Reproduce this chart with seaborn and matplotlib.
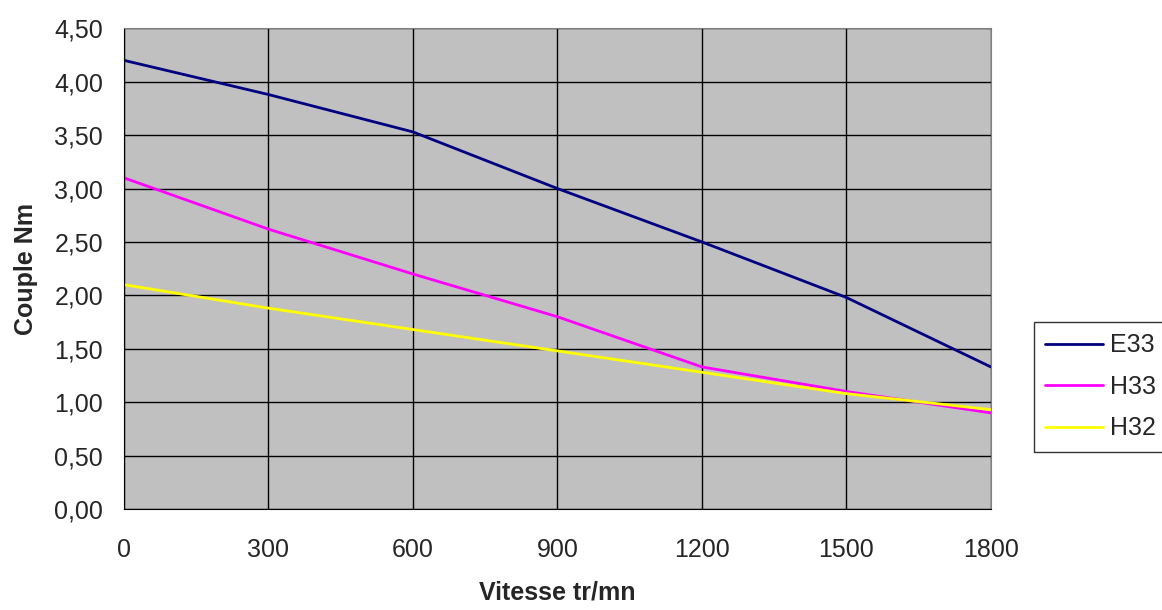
import pandas as pd
import matplotlib
matplotlib.use("Agg")
import matplotlib.pyplot as plt
import seaborn as sns
from matplotlib.ticker import FuncFormatter, MultipleLocator

# speed (tr/mn) and torque (Nm)
vitesse = [0, 300, 600, 900, 1200, 1500, 1800]
e33 = [4.20, 3.88, 3.53, 3.00, 2.50, 1.98, 1.33]
h33 = [3.10, 2.62, 2.20, 1.80, 1.33, 1.10, 0.90]
h32 = [2.10, 1.88, 1.68, 1.48, 1.28, 1.08, 0.93]
series = ["E33", "H33", "H32"]
colors = ["#000080", "#FF00FF", "#FFFF00"]

df = pd.DataFrame({
    "Vitesse": vitesse * 3,
    "Couple": e33 + h33 + h32,
    "Moteur": [s for s in series for _ in vitesse],
})

sns.set_style("white")
plt.rcParams["font.family"] = ["Liberation Sans", "DejaVu Sans"]

fig = plt.figure(figsize=(11.62, 6.10), dpi=100)
ax = fig.add_axes([0.1067, 0.1656, 0.746, 0.788])
ax.set_facecolor("#C0C0C0")

sns.lineplot(data=df, x="Vitesse", y="Couple", hue="Moteur",
             palette=dict(zip(series, colors)), linewidth=2, ax=ax)

ax.set_xlim(0, 1800)
ax.set_ylim(0, 4.5)
ax.xaxis.set_major_locator(MultipleLocator(300))
ax.yaxis.set_major_locator(MultipleLocator(0.5))
ax.yaxis.set_major_formatter(FuncFormatter(lambda v, p: f"{v:.2f}".replace(".", ",")))
ax.grid(True, color="black", linewidth=1)
ax.set_axisbelow(True)
for s in ax.spines.values():
    s.set_color("#808080")
ax.spines["left"].set_color("black")
ax.spines["bottom"].set_color("black")
ax.tick_params(axis="both", direction="out", length=6, width=1, color="black",
               labelsize=18)
ax.tick_params(axis="y", pad=9)
ax.tick_params(axis="x", pad=15)

ax.set_xlabel("Vitesse tr/mn", fontsize=18, fontweight="bold", labelpad=13)
ax.set_ylabel("Couple Nm", fontsize=18, fontweight="bold", labelpad=12)

leg = ax.legend(loc="upper left", bbox_to_anchor=(0.8898, 0.4721),
                bbox_transform=fig.transFigure, borderaxespad=0, frameon=True,
                fontsize=18, fancybox=False, handlelength=2.3, handletextpad=0.3,
                borderpad=0.45, labelspacing=0.7)
leg.get_frame().set_edgecolor("black")
leg.get_frame().set_linewidth(1)
leg.set_title(None)

fig.savefig("out.png", dpi=100)
